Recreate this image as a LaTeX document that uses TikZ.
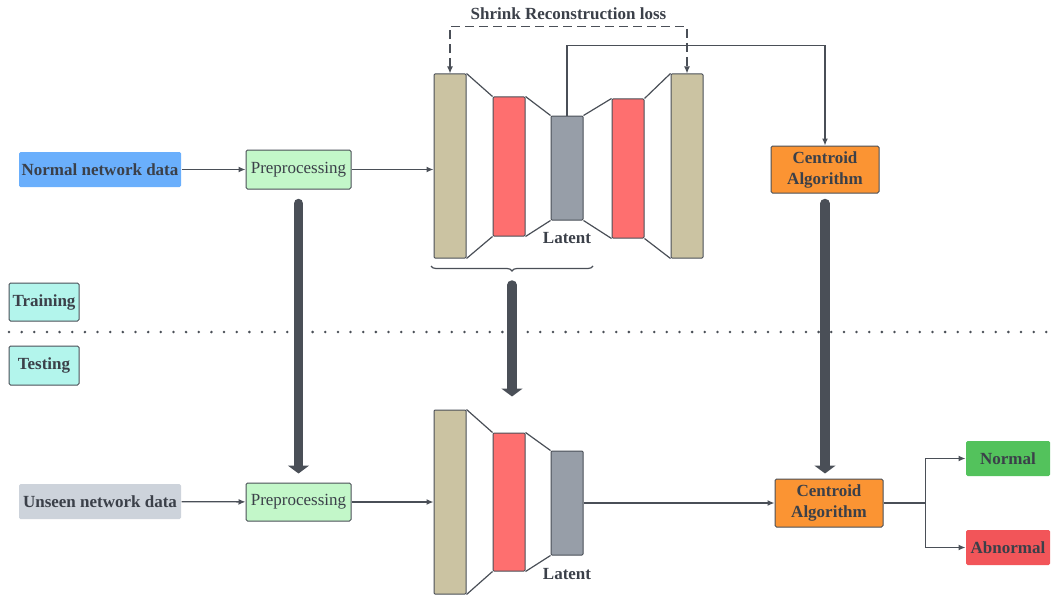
\documentclass[tikz,border=0pt]{standalone}
\usepackage{fontspec}
\setmainfont{Liberation Serif}
\usetikzlibrary{arrows.meta, decorations.pathreplacing}

\definecolor{ink}{HTML}{3B4049}
\definecolor{edge}{HTML}{4A4F57}
\definecolor{tan}{HTML}{CBC3A2}
\definecolor{redbar}{HTML}{FE6F6F}
\definecolor{latgray}{HTML}{979EA8}
\definecolor{blue}{HTML}{6AAFFC}
\definecolor{mint}{HTML}{C3F7C9}
\definecolor{orange}{HTML}{FB9433}
\definecolor{teal}{HTML}{B3F5EC}
\definecolor{unseen}{HTML}{CDD3DB}
\definecolor{okgreen}{HTML}{53C25C}
\definecolor{badred}{HTML}{F25559}

\tikzset{
	box/.style = {draw = edge, line width = 1pt, rounded corners = 1.5pt, inner sep = 0pt, align = center,
		text = ink, font = \fontsize{17}{21}\selectfont},
	bbox/.style = {box, font = \bfseries\fontsize{17}{21}\selectfont},
	bar/.style = {draw = edge, line width = 1pt, rounded corners = 1pt, minimum width = 32pt, inner sep = 0pt},
	arr/.style = {draw = edge, line width = 1.3pt, -{Latex[length = 7pt, width = 6pt]}},
	fat/.style = {draw = edge, line width = 9.5pt, line cap = round,
		-{Triangle[length = 8pt, width = 21pt]}},
	lbl/.style = {text = ink, font = \bfseries\fontsize{17}{17}\selectfont}
}

\begin{document}
\begin{tikzpicture}[x = 1pt, y = -1pt]
	\useasboundingbox (0,0) rectangle (1056,599);

	% training row
	\node[bbox, fill = blue, draw = none, minimum width = 162pt, minimum height = 35pt]
		(ndata) at (100,169.5) {Normal network data};
	\node[box, fill = mint, minimum width = 105pt, minimum height = 39pt] (pre1) at (298.5,169.5) {Preprocessing};

	\node[bar, fill = tan, minimum height = 184pt] (eb1) at (450,166) {};
	\node[bar, fill = redbar, minimum height = 139pt] (er1) at (509,166.5) {};
	\node[bar, fill = latgray, minimum height = 104pt] (el1) at (567,168) {};
	\node[bar, fill = redbar, minimum height = 139pt] (dr1) at (628,168.5) {};
	\node[bar, fill = tan, minimum height = 184pt] (db1) at (687,166) {};
	\node[lbl] at (567,238) {Latent};

	\node[bbox, fill = orange, minimum width = 108pt, minimum height = 47pt]
		(cen1) at (825,169.5) {Centroid\\Algorithm};

	% phase labels
	\node[bbox, fill = teal, minimum width = 70pt, minimum height = 38pt] (train) at (44,302) {Training};
	\node[bbox, fill = teal, minimum width = 70pt, minimum height = 39pt] (test) at (44,365.5) {Testing};
	\draw[edge, line width = 2.8pt, line cap = round, dash pattern = on 0pt off 12.65pt] (9,332) -- (1056,332);

	% testing row
	\node[bbox, fill = unseen, draw = none, minimum width = 162pt, minimum height = 35pt]
		(udata) at (100,501.5) {Unseen network data};
	\node[box, fill = mint, minimum width = 105pt, minimum height = 38pt] (pre2) at (298.5,502) {Preprocessing};

	\node[bar, fill = tan, minimum height = 184pt] (eb2) at (450,502) {};
	\node[bar, fill = redbar, minimum height = 138pt] (er2) at (509,502) {};
	\node[bar, fill = latgray, minimum height = 104pt] (el2) at (567,503) {};
	\node[lbl] at (567,574) {Latent};

	\node[bbox, fill = orange, minimum width = 108pt, minimum height = 48pt]
		(cen2) at (829,503) {Centroid\\Algorithm};
	\node[bbox, fill = okgreen, draw = none, minimum width = 84pt, minimum height = 35pt] (nrm) at (1008,458.5) {Normal};
	\node[bbox, fill = badred, draw = none, minimum width = 84pt, minimum height = 35pt] (abn) at (1008,547.5) {Abnormal};

	% funnel edges
	\draw[edge, line width = 1.2pt]
		(eb1.north east) -- (er1.north west) (eb1.south east) -- (er1.south west)
		(er1.north east) -- (el1.north west) (er1.south east) -- (el1.south west)
		(el1.north east) -- (dr1.north west) (el1.south east) -- (dr1.south west)
		(dr1.north east) -- (db1.north west) (dr1.south east) -- (db1.south west)
		(eb2.north east) -- (er2.north west) (eb2.south east) -- (er2.south west)
		(er2.north east) -- (el2.north west) (er2.south east) -- (el2.south west);

	% connectors
	\draw[arr] (ndata) -- (pre1);
	\draw[arr] (pre1) -- (pre1 -| eb1.west);
	\draw[arr] (udata) -- (pre2);
	\draw[arr] (pre2) -- (pre2 -| eb2.west);
	\draw[arr] (el1.north) -- ++(0,-70) -| (cen1.north);
	\draw[arr, {Latex[length = 7pt, width = 6pt]}-{Latex[length = 7pt, width = 6pt]}, dash pattern = on 9pt off 5pt]
		(eb1.north) -- ++(0,-47) -| node[pos = 0.25, above = 3pt, lbl]{Shrink Reconstruction loss} (db1.north);
	\draw[arr] (el2) -- (cen2);
	\draw[edge, line width = 1.8pt] (cen2.east) -- ++(42,0) coordinate (split);
	\draw[arr] (split) |- (nrm.west);
	\draw[arr] (split) |- (abn.west);

	% brace and heavy arrows
	\draw[edge, line width = 1.2pt, decorate, decoration = {brace, mirror, amplitude = 5pt}]
		(431,266) -- (593,266) coordinate[midway] (brc);
	\coordinate (tip) at (512,272);
	\draw[fat, shorten < = 13pt] (tip) -- (tip |- er2.north) [shorten > = 36pt];
	\draw[fat, shorten < = 14pt, shorten > = 9pt] (pre1.south) -- (pre2.north);
	\draw[fat, shorten < = 10pt, shorten > = 5pt] (cen1.south) -- (cen1.south |- cen2.north);
\end{tikzpicture}
\end{document}
